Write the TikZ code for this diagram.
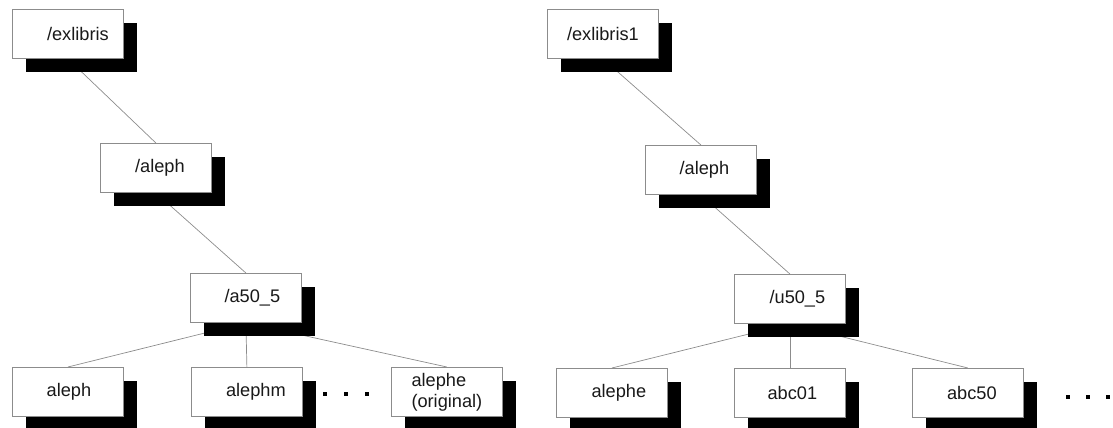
\documentclass[tikz,border=0pt]{standalone}
\usepackage{fontspec}
\setmainfont{Liberation Sans}
\usetikzlibrary{shadows}
\pgfdeclarelayer{bg}
\pgfsetlayers{bg,main}
\tikzset{
  dirbox/.style={draw=black!45, line width=0.8pt, fill=white,
    minimum width=111pt, minimum height=49pt, inner sep=0pt,
    anchor=north west, text=black!90, font=\fontsize{18.2}{21}\selectfont,
    drop shadow={shadow xshift=13.5pt, shadow yshift=-13.5pt, fill=black, opacity=1}},
  tx/.style={execute at begin node={\hspace*{#1pt}}},
  link/.style={draw=black!45, line width=0.7pt},
  sqdot/.style={fill=black, draw=none, minimum size=4pt, inner sep=0pt, rectangle}
}
\begin{document}
\begin{tikzpicture}[x=1pt,y=-1pt]
\clip (0,0) rectangle (1113,428);
% left tree
\node[dirbox,tx=20] (e1) at (12,9) {/exlibris};
\node[dirbox,tx=8] (a1) at (100,143) {/aleph};
\node[dirbox,tx=13] (f1) at (190,273) {/a50\_5};
\node[dirbox,tx=2] (c11) at (12,367) {aleph};
\node[dirbox,tx=18] (c12) at (191,367) {alephm};
\node[dirbox,align=left] (c13) at (391,367) {alephe\\(original)};
\node[sqdot] (d11) at (325,394) {};
\node[sqdot] (d12) at (346,394) {};
\node[sqdot] (d13) at (367,394) {};
% right tree
\node[dirbox] (e2) at (547,9) {/exlibris1};
\node[dirbox,tx=7] (a2) at (645,145) {/aleph};
\node[dirbox,tx=15] (f2) at (734,274) {/u50\_5};
\node[dirbox,tx=14] (c21) at (556,368) {alephe};
\node[dirbox,tx=5] (c22) at (734,368) {abc01};
\node[dirbox,tx=8] (c23) at (912,368) {abc50};
\node[sqdot] (d21) at (1068,397) {};
\node[sqdot] (d22) at (1088,397) {};
\node[sqdot] (d23) at (1108,397) {};
\begin{pgfonlayer}{bg}
\draw[link] (e1.south) -- (a1.north);
\draw[link] (a1.south) -- (f1.north);
\draw[link] (f1.south) -- (c11.north);
\draw[link] (f1.south) -- (c12.north);
\draw[link] (f1.south) -- (c13.north);
\draw[link] (e2.south) -- (a2.north);
\draw[link] (a2.south) -- (f2.north);
\draw[link] (f2.south) -- (c21.north);
\draw[link] (f2.south) -- (c22.north);
\draw[link] (f2.south) -- (c23.north);
\end{pgfonlayer}
\end{tikzpicture}
\end{document}
